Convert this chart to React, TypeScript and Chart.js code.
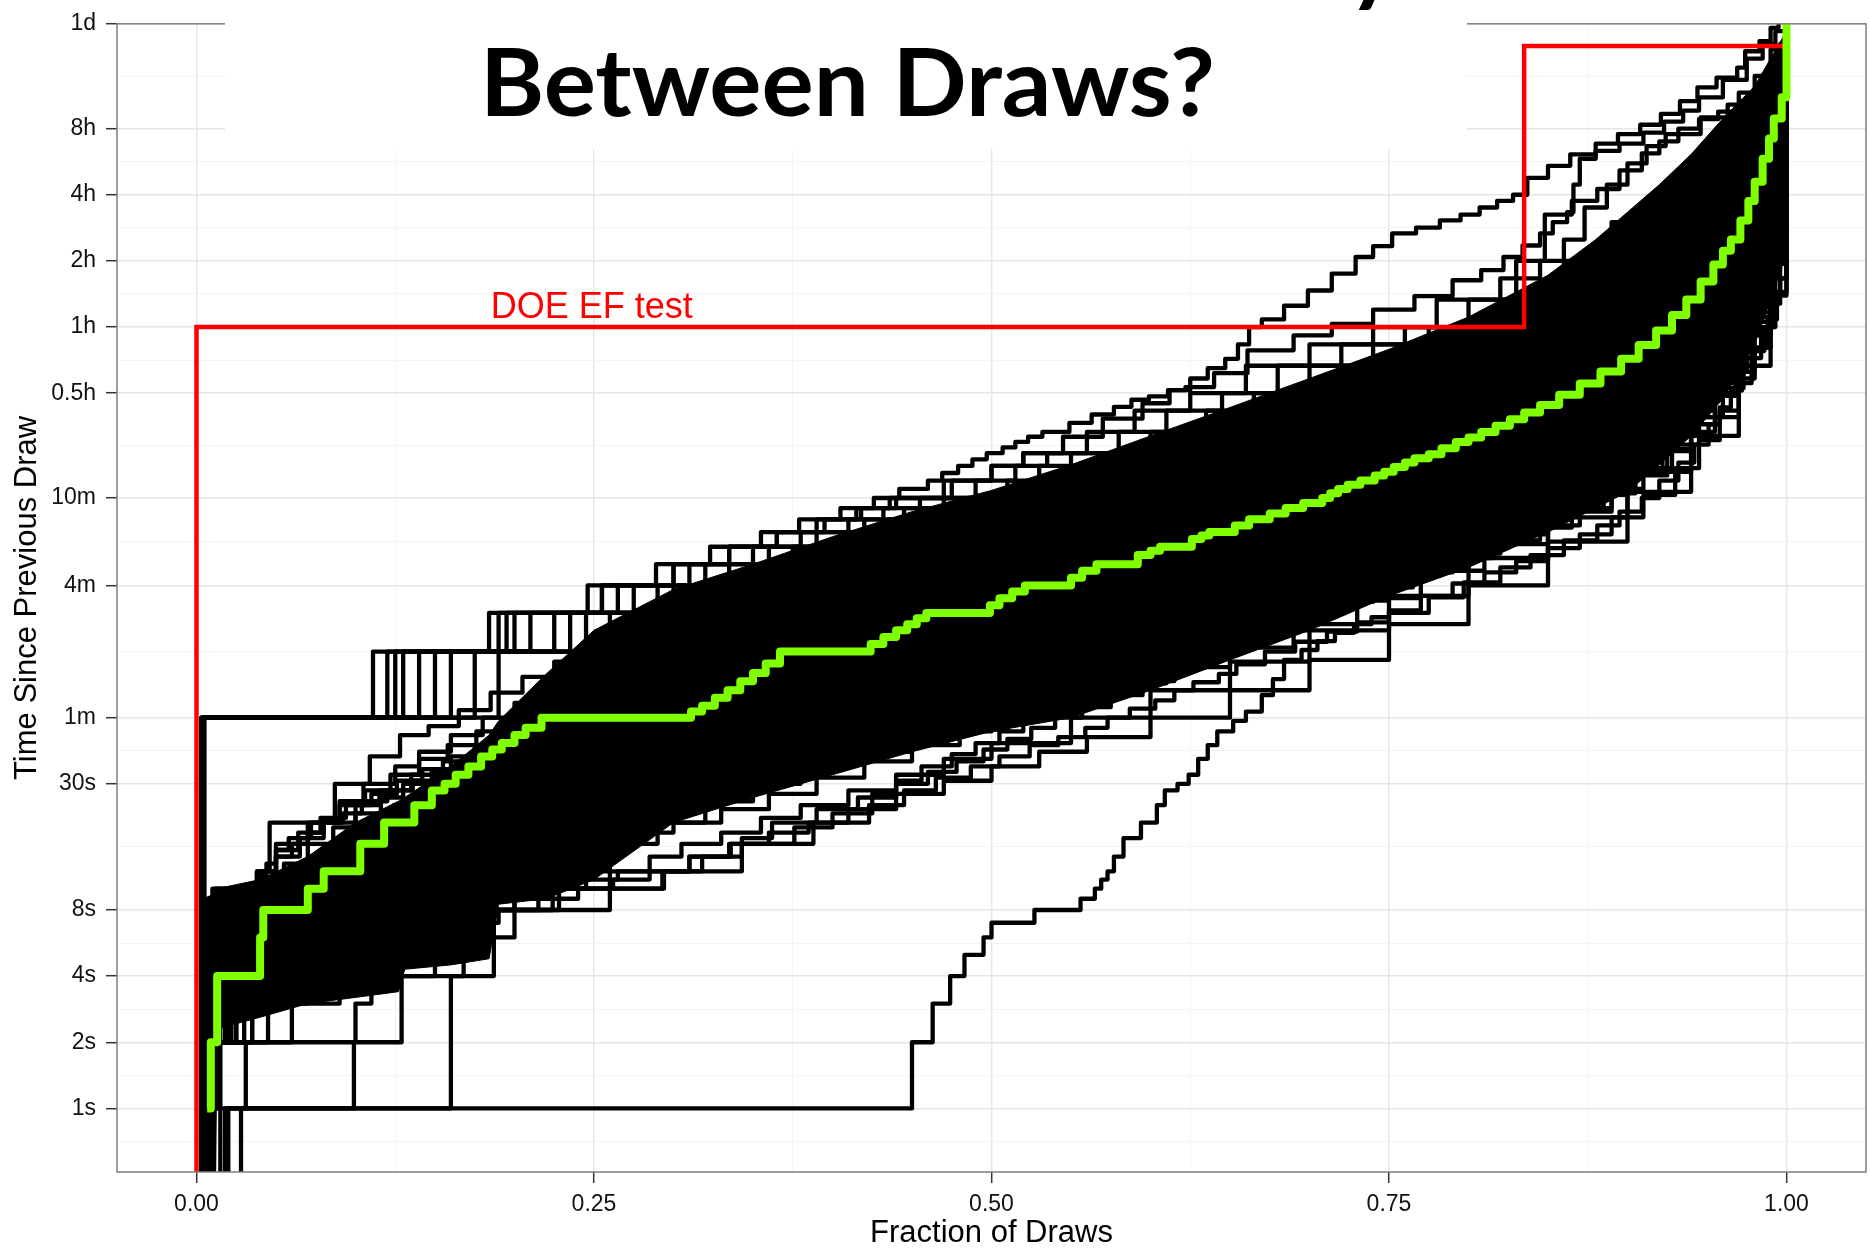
import React, { useEffect, useRef } from 'react';
import { Chart, registerables } from 'chart.js';

Chart.register(...registerables);

type Pt = [number, number];

// ---------- axes ----------
const xMajorTicks = [0, 0.25, 0.5, 0.75, 1];
const xTickLabels = ['0.00', '0.25', '0.50', '0.75', '1.00'];
const xMinorTicks = [0.125, 0.375, 0.625, 0.875];
const yMajorTicks = [1, 2, 4, 8, 30, 60, 240, 600, 1800, 3600, 7200, 14400, 28800, 86400];
const yTickLabels = ['1s', '2s', '4s', '8s', '30s', '1m', '4m', '10m', '0.5h', '1h', '2h', '4h', '8h', '1d'];
const yMinorTicks = [0.707, 1.414, 2.83, 5.66, 15.5, 42.4, 120, 379, 1039, 2546, 5091, 10182, 20365, 49883];
const xAxisTitle = 'Fraction of Draws';
const yAxisTitle = 'Time Since Previous Draw';
const chartTitle = 'Between Draws?';
const doeLabel = 'DOE EF test';
const doeLabelX = 0.185;
const doeLabelY = 3950;

// ---------- series (x = fraction of draws, y = seconds; 0.1 = zero interval, below axis) ----------
const greenLine: Pt[] = [[0.0067,1],[0.009,2],[0.013,4],[0.04,6],[0.042,8],[0.07,10],[0.08,12],[0.103,16],[0.118,20],[0.137,24],[0.148,28],[0.156,30],[0.163,33],[0.171,36],[0.179,40],[0.186,43],[0.192,46],[0.2,50],[0.207,54],[0.217,60],[0.311,64],[0.318,68],[0.326,74],[0.334,80],[0.342,88],[0.35,96],[0.358,106],[0.367,120],[0.424,130],[0.432,140],[0.44,150],[0.447,160],[0.453,170],[0.459,180],[0.499,195],[0.505,210],[0.513,225],[0.521,240],[0.55,260],[0.557,280],[0.566,300],[0.592,330],[0.6,345],[0.606,360],[0.626,390],[0.632,405],[0.637,420],[0.653,450],[0.662,480],[0.675,510],[0.685,540],[0.696,570],[0.708,600],[0.713,630],[0.718,660],[0.724,690],[0.732,720],[0.741,760],[0.747,790],[0.753,830],[0.76,870],[0.766,910],[0.775,950],[0.783,1010],[0.792,1080],[0.8,1130],[0.808,1200],[0.817,1280],[0.826,1370],[0.835,1470],[0.845,1590],[0.857,1770],[0.87,1990],[0.883,2260],[0.896,2580],[0.907,2980],[0.918,3470],[0.928,4080],[0.937,4800],[0.946,5800],[0.954,6940],[0.96,8000],[0.965,9000],[0.971,11000],[0.976,13500],[0.98,16500],[0.985,21000],[0.989,26000],[0.992,32000],[0.997,40000],[1,86400]];

const redLine: Pt[] = [[0,0.1],[0,3600],[0.835,68400],[1,68400]];

const lineSB: Pt[] = [[0,0.1],[0.028,1],[0.45,2],[0.463,3],[0.474,4],[0.483,5],[0.495,6],[0.5,7],[0.527,8],[0.556,9],[0.565,10],[0.569,11],[0.573,12],[0.577,14],[0.583,17],[0.594,20],[0.604,24],[0.609,28],[0.617,30],[0.624,33],[0.63,39],[0.636,45],[0.642,52],[0.652,58],[0.66,64],[0.67,76],[0.677,90],[0.684,110],[0.695,122],[0.705,134],[0.716,146],[0.728,160],[0.739,172],[0.75,185],[0.77,215],[0.79,245],[0.81,275],[0.83,310],[0.85,355],[0.87,410],[0.89,490],[0.91,620],[0.93,820],[0.945,1100],[0.958,1500],[0.97,2100],[0.98,2900],[0.988,3900],[0.994,5200],[1,7500]];
const lineS1: Pt[] = [[0,0.1],[0.02,1],[0.16,4],[0.187,8],[0.26,10],[0.293,12],[0.318,14],[0.336,16],[0.388,20],[0.423,24],[0.445,28],[0.465,32],[0.487,36],[0.505,40],[0.524,45],[0.542,49],[0.559,54],[0.573,60],[0.587,66],[0.603,72],[0.615,80],[0.627,87],[0.643,95],[0.654,105],[0.672,120],[0.691,133],[0.711,148],[0.73,163],[0.75,180],[0.775,212],[0.797,248],[0.82,290],[0.839,330],[0.86,385],[0.881,450],[0.895,520],[0.909,600],[0.92,720],[0.932,870],[0.942,1050],[0.951,1300],[0.958,1550],[0.965,1850],[0.972,2250],[0.98,2800],[0.986,3600],[0.991,4600],[0.996,6000],[1,7000]];
const lineS2: Pt[] = [[0,0.1],[0.018,1],[0.099,2],[0.129,4],[0.168,6],[0.2,8],[0.228,10],[0.294,12],[0.343,16],[0.376,19],[0.4,22],[0.425,27],[0.44,31],[0.456,36],[0.475,41],[0.49,46],[0.505,52],[0.52,59],[0.534,66],[0.556,75],[0.576,89],[0.6,102],[0.62,115],[0.64,130],[0.66,150],[0.68,170],[0.7,192],[0.72,215],[0.745,250],[0.77,290],[0.795,335],[0.82,385],[0.845,450],[0.87,540],[0.89,660],[0.91,820],[0.928,1050],[0.945,1400],[0.96,1900],[0.973,2600],[0.984,3600],[0.992,5000],[1,9000]];
const lineS3: Pt[] = [[0,0.1],[0.015,1],[0.031,2],[0.1,3],[0.11,4],[0.15,6],[0.178,8],[0.224,10],[0.26,12],[0.31,14],[0.343,17],[0.362,20],[0.39,23],[0.416,26],[0.44,30],[0.46,34],[0.478,38],[0.495,43],[0.51,48],[0.525,54],[0.54,60],[0.557,67],[0.575,76],[0.595,88],[0.615,102],[0.635,118],[0.655,136],[0.675,156],[0.695,178],[0.715,202],[0.74,235],[0.765,275],[0.79,320],[0.815,375],[0.84,440],[0.865,525],[0.885,630],[0.905,780],[0.922,980],[0.94,1300],[0.955,1750],[0.968,2400],[0.98,3300],[0.99,5000],[0.996,7500],[1,11000]];
const lineS4: Pt[] = [[0,0.1],[0.004,1],[0.008,2],[0.02,3],[0.035,4],[0.07,6],[0.168,8],[0.2,10],[0.23,12],[0.26,16],[0.29,20],[0.32,25],[0.35,30],[0.38,36],[0.41,43],[0.44,50],[0.47,60],[0.5,72],[0.53,86],[0.56,100],[0.59,118],[0.62,140],[0.66,170],[0.7,220],[0.74,290],[0.78,380],[0.82,500],[0.86,700],[0.9,1000],[0.93,1500],[0.955,2300],[0.975,3800],[0.99,7000],[1,14000]];
const lineS5: Pt[] = [[0,0.1],[0.005,1],[0.01,2],[0.03,3],[0.05,4],[0.12,6],[0.145,8],[0.185,10],[0.22,12],[0.25,16],[0.275,20],[0.3,24],[0.325,28],[0.35,33],[0.375,39],[0.4,46],[0.43,55],[0.46,65],[0.49,78],[0.52,92],[0.55,110],[0.58,130],[0.615,160],[0.65,200],[0.69,260],[0.73,340],[0.77,450],[0.81,600],[0.85,820],[0.885,1150],[0.915,1650],[0.945,2500],[0.97,4200],[0.99,9000],[1,18000]];
const lineS6: Pt[] = [[0,0.1],[0.006,1],[0.012,2],[0.025,3],[0.04,4],[0.06,5],[0.1,6],[0.14,8],[0.165,10],[0.19,12],[0.215,14],[0.24,16],[0.265,20],[0.29,24],[0.315,29],[0.34,35],[0.37,42],[0.4,50],[0.43,60],[0.46,72],[0.49,86],[0.52,102],[0.55,120],[0.585,145],[0.62,180],[0.66,230],[0.7,300],[0.74,390],[0.78,520],[0.82,700],[0.86,980],[0.9,1450],[0.93,2200],[0.96,3700],[0.98,6500],[0.995,14000],[1,22000]];
const lineS7: Pt[] = [[0,0.1],[0.007,1],[0.015,2],[0.035,3],[0.06,4],[0.09,6],[0.11,8],[0.13,9],[0.15,10],[0.17,12],[0.195,14],[0.22,17],[0.245,20],[0.27,24],[0.295,29],[0.32,35],[0.35,42],[0.38,50],[0.41,60],[0.44,72],[0.47,86],[0.5,102],[0.53,120],[0.565,145],[0.6,175],[0.64,220],[0.68,290],[0.72,380],[0.76,500],[0.8,680],[0.84,950],[0.88,1400],[0.915,2100],[0.945,3400],[0.97,6000],[0.99,13000],[1,28000]];
const lineS8: Pt[] = [[0,0.1],[0.003,1],[0.006,2],[0.012,3],[0.02,4],[0.045,6],[0.075,8],[0.1,10],[0.125,12],[0.155,16],[0.185,20],[0.215,25],[0.24,30],[0.265,35],[0.29,40],[0.32,47],[0.35,55],[0.38,65],[0.41,77],[0.44,90],[0.47,105],[0.5,122],[0.535,145],[0.57,175],[0.61,215],[0.65,270],[0.69,350],[0.73,450],[0.77,600],[0.81,800],[0.85,1100],[0.89,1600],[0.925,2500],[0.955,4200],[0.978,8000],[0.993,18000],[1,35000]];
const lineS9: Pt[] = [[0,0.1],[0.004,1],[0.007,2],[0.015,3],[0.025,4],[0.05,6],[0.065,8],[0.085,10],[0.1,12],[0.13,16],[0.16,20],[0.19,25],[0.215,30],[0.24,35],[0.26,40],[0.285,46],[0.31,53],[0.335,60],[0.36,70],[0.39,82],[0.42,96],[0.455,115],[0.49,135],[0.525,160],[0.56,190],[0.6,240],[0.64,300],[0.68,390],[0.72,500],[0.76,650],[0.8,850],[0.84,1150],[0.88,1650],[0.915,2500],[0.945,4000],[0.97,7500],[0.988,16000],[1,45000]];
const lineS10: Pt[] = [[0,0.1],[0.003,1],[0.005,2],[0.01,3],[0.015,4],[0.03,6],[0.055,8],[0.075,10],[0.09,12],[0.115,16],[0.14,20],[0.165,25],[0.19,30],[0.21,35],[0.235,40],[0.255,46],[0.275,52],[0.3,60],[0.33,70],[0.36,82],[0.39,96],[0.43,115],[0.47,140],[0.51,170],[0.55,210],[0.59,260],[0.63,330],[0.67,420],[0.71,540],[0.75,700],[0.79,920],[0.83,1250],[0.87,1800],[0.905,2700],[0.935,4200],[0.96,7500],[0.982,16000],[1,55000]];
const lineS11: Pt[] = [[0,0.1],[0.003,1],[0.005,2],[0.008,3],[0.012,4],[0.025,6],[0.045,8],[0.06,10],[0.075,12],[0.1,16],[0.12,20],[0.145,25],[0.165,30],[0.19,36],[0.21,42],[0.235,50],[0.26,58],[0.285,68],[0.31,80],[0.34,95],[0.37,112],[0.405,135],[0.445,165],[0.485,200],[0.525,245],[0.565,300],[0.61,380],[0.65,480],[0.69,610],[0.73,780],[0.77,1000],[0.81,1350],[0.85,1900],[0.89,2800],[0.925,4300],[0.955,7500],[0.978,15000],[0.992,32000],[1,65000]];
const lineS12: Pt[] = [[0,0.1],[0.003,1],[0.004,2],[0.006,4],[0.008,8],[0.01,10],[0.038,12],[0.046,20],[0.087,30],[0.109,40],[0.128,50],[0.146,55],[0.165,65],[0.185,78],[0.205,92],[0.225,108],[0.245,125],[0.27,145],[0.295,170],[0.32,200],[0.35,240],[0.38,285],[0.41,340],[0.44,400],[0.47,470],[0.5,560],[0.535,670],[0.57,800],[0.61,980],[0.65,1200],[0.69,1500],[0.73,1900],[0.77,2450],[0.81,3200],[0.85,4300],[0.89,6000],[0.925,9000],[0.955,15000],[0.978,28000],[0.993,55000],[1,75000]];
const lineS13: Pt[] = [[0,0.1],[0.005,1],[0.009,2],[0.018,3],[0.028,4],[0.04,5],[0.055,6],[0.08,7],[0.095,8],[0.115,9],[0.135,10],[0.155,11],[0.175,12],[0.2,14],[0.225,16],[0.25,19],[0.275,22],[0.3,26],[0.325,30],[0.355,36],[0.385,43],[0.415,51],[0.445,60],[0.475,71],[0.505,84],[0.535,100],[0.57,120],[0.605,145],[0.64,180],[0.68,230],[0.72,300],[0.76,400],[0.8,540],[0.84,750],[0.88,1100],[0.915,1700],[0.945,2800],[0.97,5000],[0.99,11000],[1,25000]];
const lineS14: Pt[] = [[0,0.1],[0.008,1],[0.013,2],[0.022,3],[0.032,4],[0.05,5],[0.075,6],[0.092,7],[0.12,8],[0.14,9],[0.16,10],[0.18,11],[0.2,12],[0.22,13],[0.24,14],[0.26,16],[0.28,18],[0.3,20],[0.33,23],[0.36,27],[0.39,32],[0.42,38],[0.45,45],[0.48,53],[0.51,62],[0.54,73],[0.575,86],[0.61,102],[0.65,125],[0.69,160],[0.73,210],[0.77,280],[0.81,370],[0.85,520],[0.89,760],[0.925,1200],[0.955,2000],[0.978,3600],[0.993,7000],[1,12000]];
const lineS15: Pt[] = [[0,0.1],[0.009,1],[0.01,3],[0.011,6],[0.012,10],[0.038,12],[0.05,16],[0.07,20],[0.09,25],[0.105,30],[0.125,36],[0.14,42],[0.16,50],[0.18,60],[0.2,70],[0.22,82],[0.24,95],[0.265,110],[0.29,128],[0.32,150],[0.35,178],[0.38,210],[0.415,250],[0.45,300],[0.49,360],[0.53,440],[0.57,540],[0.61,670],[0.65,840],[0.69,1050],[0.73,1350],[0.77,1750],[0.81,2300],[0.85,3100],[0.89,4300],[0.925,6200],[0.955,10000],[0.978,19000],[0.992,38000],[1,70000]];
const lineS16: Pt[] = [[0,0.1],[0.011,1],[0.012,2],[0.014,4],[0.016,7],[0.022,9],[0.034,10],[0.042,12],[0.05,14],[0.065,17],[0.08,20],[0.1,24],[0.115,28],[0.135,33],[0.155,38],[0.175,44],[0.195,51],[0.215,58],[0.235,66],[0.26,76],[0.285,88],[0.31,100],[0.34,118],[0.37,138],[0.4,160],[0.44,195],[0.48,240],[0.52,295],[0.56,360],[0.6,450],[0.64,560],[0.68,700],[0.72,880],[0.76,1120],[0.8,1450],[0.84,1950],[0.88,2700],[0.915,3900],[0.945,6000],[0.97,10500],[0.988,22000],[1,50000]];
const lineS17: Pt[] = [[0,0.1],[0.003,1],[0.006,2],[0.01,3],[0.016,4],[0.026,5],[0.038,6],[0.052,7],[0.066,8],[0.082,9],[0.1,10],[0.118,11],[0.136,12],[0.16,14],[0.185,16],[0.21,18],[0.24,21],[0.27,25],[0.3,30],[0.35,38],[0.4,48],[0.45,62],[0.5,80],[0.55,105],[0.6,140],[0.65,190],[0.7,260],[0.75,360],[0.8,520],[0.85,780],[0.9,1300],[0.94,2300],[0.97,4500],[0.99,10000],[1,20000]];
const lineS18: Pt[] = [[0,0.1],[0.004,1],[0.007,2],[0.011,3],[0.014,4],[0.02,5],[0.028,6],[0.036,7],[0.044,8],[0.058,10],[0.07,12],[0.085,14],[0.1,16],[0.118,19],[0.135,22],[0.152,25],[0.17,28],[0.19,32],[0.21,36],[0.235,41],[0.26,47],[0.3,56],[0.35,70],[0.4,88],[0.45,110],[0.5,140],[0.55,180],[0.6,235],[0.65,310],[0.7,420],[0.75,580],[0.8,820],[0.85,1200],[0.9,1900],[0.94,3300],[0.97,6500],[0.99,15000],[1,30000]];
const lineS19: Pt[] = [[0,0.1],[0.005,1],[0.008,2],[0.035,3],[0.055,4],[0.068,5],[0.08,6],[0.092,7],[0.104,8],[0.118,9],[0.132,10],[0.148,11],[0.164,12],[0.18,13],[0.196,15],[0.215,17],[0.24,19],[0.265,22],[0.29,25],[0.32,29],[0.36,35],[0.4,42],[0.45,52],[0.5,66],[0.55,85],[0.6,112],[0.65,150],[0.7,205],[0.75,285],[0.8,410],[0.85,620],[0.9,1000],[0.94,1800],[0.97,3500],[0.99,8000],[1,16000]];
const lineS20: Pt[] = [[0,0.1],[0.006,1],[0.01,2],[0.014,3],[0.019,4],[0.03,5],[0.042,6],[0.05,7],[0.06,8],[0.072,9],[0.088,10],[0.104,12],[0.12,14],[0.14,16],[0.158,18],[0.176,20],[0.196,23],[0.218,26],[0.24,30],[0.27,35],[0.3,41],[0.35,52],[0.4,66],[0.45,84],[0.5,108],[0.55,140],[0.6,185],[0.65,245],[0.7,330],[0.75,460],[0.8,650],[0.85,960],[0.9,1500],[0.94,2700],[0.97,5300],[0.99,12000],[1,24000]];
const lineS21: Pt[] = [[0,0.1],[0.003,1],[0.005,2],[0.009,4],[0.013,6],[0.018,8],[0.026,10],[0.04,12],[0.05,15],[0.064,18],[0.078,21],[0.094,24],[0.11,27],[0.126,31],[0.142,35],[0.16,40],[0.18,45],[0.2,51],[0.22,57],[0.245,64],[0.27,72],[0.3,82],[0.35,100],[0.4,124],[0.45,152],[0.5,190],[0.55,240],[0.6,305],[0.65,395],[0.7,520],[0.75,700],[0.8,960],[0.85,1400],[0.9,2200],[0.94,3800],[0.97,7500],[0.99,17000],[1,36000]];
const lineS22: Pt[] = [[0,0.1],[0.004,1],[0.006,2],[0.012,3],[0.017,5],[0.022,7],[0.03,9],[0.04,11],[0.055,13],[0.07,16],[0.086,19],[0.1,22],[0.116,26],[0.13,30],[0.148,34],[0.165,38],[0.185,43],[0.205,48],[0.228,54],[0.25,60],[0.28,68],[0.32,80],[0.36,94],[0.4,110],[0.45,135],[0.5,168],[0.55,210],[0.6,265],[0.65,340],[0.7,445],[0.75,600],[0.8,830],[0.85,1200],[0.9,1900],[0.94,3300],[0.97,6500],[0.99,14000],[1,28000]];
const lineS23: Pt[] = [[0,0.1],[0.005,1],[0.009,2],[0.025,3],[0.04,4],[0.05,5],[0.058,6],[0.066,7],[0.074,8],[0.082,9],[0.09,10],[0.1,11],[0.11,12],[0.12,13],[0.13,14],[0.14,15],[0.15,16],[0.162,18],[0.175,20],[0.19,22],[0.21,24],[0.23,27],[0.255,30],[0.28,34],[0.31,39],[0.35,46],[0.4,56],[0.45,70],[0.5,88],[0.55,112],[0.6,145],[0.65,190],[0.7,255],[0.75,350],[0.8,500],[0.85,740],[0.9,1150],[0.94,2000],[0.97,4000],[0.99,9000],[1,18000]];
const lineS24: Pt[] = [[0,0.1],[0.006,1],[0.008,2],[0.011,3],[0.015,4],[0.022,6],[0.03,8],[0.038,9],[0.05,10],[0.062,12],[0.074,14],[0.09,17],[0.106,20],[0.124,24],[0.142,28],[0.16,33],[0.178,38],[0.196,44],[0.215,50],[0.235,56],[0.26,63],[0.29,72],[0.33,85],[0.37,100],[0.41,118],[0.45,140],[0.5,172],[0.55,215],[0.6,270],[0.65,345],[0.7,450],[0.75,610],[0.8,850],[0.85,1250],[0.9,2000],[0.94,3500],[0.97,7000],[0.99,16000],[1,40000]];
const lineS25: Pt[] = [[0,0.1],[0.007,1],[0.011,2],[0.045,3],[0.07,4],[0.1,5],[0.125,6],[0.15,7],[0.175,8],[0.2,9],[0.222,10],[0.245,11],[0.265,12],[0.285,14],[0.305,16],[0.33,18],[0.355,21],[0.38,24],[0.41,28],[0.44,33],[0.47,39],[0.5,46],[0.55,60],[0.6,80],[0.65,108],[0.7,150],[0.75,215],[0.8,320],[0.85,490],[0.9,790],[0.94,1400],[0.97,2900],[0.99,7000],[1,14000]];
const lineS26: Pt[] = [[0,0.1],[0.004,1],[0.005,3],[0.008,5],[0.012,7],[0.016,9],[0.028,10],[0.038,11],[0.044,13],[0.05,15],[0.058,17],[0.072,20],[0.09,24],[0.106,28],[0.122,33],[0.14,39],[0.158,45],[0.176,52],[0.194,60],[0.214,68],[0.236,77],[0.26,88],[0.29,100],[0.32,116],[0.36,135],[0.4,158],[0.45,190],[0.5,230],[0.55,285],[0.6,355],[0.65,450],[0.7,580],[0.75,770],[0.8,1050],[0.85,1500],[0.9,2400],[0.94,4200],[0.97,8500],[0.99,20000],[1,45000]];
const lineS27: Pt[] = [[0,0.1],[0.005,1],[0.007,2],[0.01,4],[0.015,6],[0.02,8],[0.027,10],[0.04,12],[0.05,14],[0.06,16],[0.07,18],[0.08,20],[0.092,22],[0.104,25],[0.12,28],[0.136,31],[0.154,34],[0.172,38],[0.19,42],[0.21,47],[0.232,52],[0.255,58],[0.28,65],[0.31,74],[0.35,86],[0.4,104],[0.45,126],[0.5,155],[0.55,195],[0.6,250],[0.65,320],[0.7,420],[0.75,570],[0.8,790],[0.85,1150],[0.9,1800],[0.94,3100],[0.97,6200],[0.99,14000],[1,30000]];
const lineS28: Pt[] = [[0,0.1],[0.008,1],[0.012,2],[0.06,3],[0.09,4],[0.12,5],[0.15,6],[0.17,7],[0.19,8],[0.215,9],[0.24,10],[0.262,11],[0.285,12],[0.31,14],[0.335,16],[0.36,18],[0.385,20],[0.41,23],[0.44,27],[0.47,31],[0.5,36],[0.53,42],[0.56,49],[0.6,60],[0.65,80],[0.7,110],[0.75,160],[0.8,240],[0.85,380],[0.9,640],[0.94,1150],[0.97,2400],[0.99,6000],[1,12000]];

const lineM1: Pt[] = [[0,0.1],[0.003,60],[0.111,120],[0.184,180],[0.246,240],[0.289,300],[0.323,360],[0.355,420],[0.379,480],[0.405,540],[0.426,600],[0.442,660],[0.46,720],[0.469,780],[0.479,840],[0.488,900],[0.497,960],[0.507,1020],[0.515,1080],[0.523,1140],[0.532,1200],[0.549,1320],[0.563,1440],[0.577,1560],[0.588,1680],[0.599,1740],[0.611,1860],[0.622,1920],[0.64,2220],[0.661,2820],[0.69,3300],[0.714,3720],[0.74,4320],[0.766,4980],[0.79,5880],[0.808,6540],[0.822,7500],[0.834,8460],[0.845,9600],[0.853,10800],[0.862,12000],[0.866,16000],[0.87,21000],[0.88,22800],[0.895,24600],[0.91,27600],[0.923,31000],[0.935,34800],[0.945,40000],[0.96,48000],[0.975,60000],[0.985,70000],[0.993,80000],[1,86400]];
const lineO1: Pt[] = [[0,0.1],[0.003,60],[0.125,120],[0.195,180],[0.255,240],[0.3,300],[0.335,360],[0.365,420],[0.39,480],[0.415,540],[0.436,600],[0.47,720],[0.5,840],[0.52,960],[0.545,1140],[0.57,1380],[0.595,1620],[0.612,1860],[0.625,2100],[0.636,2340],[0.647,2580],[0.655,3000],[0.662,3600],[0.67,3900],[0.684,4500],[0.699,5280],[0.714,6300],[0.729,7500],[0.74,8400],[0.752,9600],[0.767,10200],[0.782,11000],[0.795,11700],[0.807,12600],[0.818,13500],[0.828,14400],[0.837,17200],[0.85,19500],[0.864,22000],[0.88,24600],[0.894,27200],[0.908,30000],[0.921,33600],[0.933,38400],[0.944,44400],[0.956,49200],[0.969,54600],[0.974,64800],[0.983,72000],[0.99,82800],[0.995,86400]];
const lineM2: Pt[] = [[0,0.1],[0.0035,60],[0.12,120],[0.19,180],[0.255,240],[0.3,300],[0.335,360],[0.365,420],[0.395,480],[0.418,540],[0.44,600],[0.475,720],[0.5,840],[0.52,960],[0.56,1200],[0.59,1500],[0.625,1800],[0.66,2400],[0.7,3000],[0.74,3600],[0.78,4800],[0.82,6000],[0.845,7200],[0.86,9000],[0.873,12600],[0.887,16000],[0.9,20000],[0.912,24000],[0.924,27200],[0.946,32400],[0.963,37000],[0.98,42600],[0.99,55000],[0.996,70000],[1,86400]];
const lineM3: Pt[] = [[0,0.1],[0.0035,60],[0.13,120],[0.2,180],[0.265,240],[0.31,300],[0.35,360],[0.38,420],[0.41,480],[0.432,540],[0.455,600],[0.49,720],[0.515,840],[0.535,960],[0.58,1200],[0.61,1500],[0.645,1800],[0.68,2400],[0.72,3000],[0.76,3600],[0.8,4800],[0.83,7200],[0.848,11700],[0.865,13500],[0.881,15300],[0.895,18600],[0.909,22200],[0.92,25200],[0.932,28800],[0.945,31800],[0.957,34400],[0.97,42000],[0.98,50000],[0.99,66000],[1,86400]];
const lineM4: Pt[] = [[0,0.1],[0.004,60],[0.14,120],[0.21,180],[0.275,240],[0.32,300],[0.36,360],[0.39,420],[0.42,480],[0.445,540],[0.47,600],[0.51,720],[0.53,840],[0.55,960],[0.6,1200],[0.635,1500],[0.665,1800],[0.7,2400],[0.74,3000],[0.775,3600],[0.82,4800],[0.86,7200],[0.89,10800],[0.93,14400],[0.96,21600],[0.98,28800],[0.995,43200],[1,70000]];
const lineM5: Pt[] = [[0,0.1],[0.004,60],[0.15,120],[0.225,180],[0.29,240],[0.335,300],[0.375,360],[0.405,420],[0.435,480],[0.46,540],[0.485,600],[0.525,720],[0.55,840],[0.57,960],[0.62,1200],[0.655,1500],[0.685,1800],[0.72,2400],[0.76,3000],[0.795,3600],[0.84,4800],[0.88,7200],[0.91,10800],[0.945,14400],[0.97,21600],[0.985,28800],[0.995,43200],[1,60000]];
const lineM6: Pt[] = [[0,0.1],[0.0045,60],[0.16,120],[0.235,180],[0.3,240],[0.35,300],[0.39,360],[0.42,420],[0.45,480],[0.475,540],[0.5,600],[0.545,720],[0.57,840],[0.59,960],[0.64,1200],[0.675,1500],[0.71,1800],[0.75,2400],[0.785,3000],[0.815,3600],[0.855,4800],[0.9,7200],[0.93,10800],[0.96,14400],[0.98,21600],[0.992,28800],[1,40000]];
const lineM7: Pt[] = [[0,0.1],[0.0045,60],[0.175,120],[0.245,180],[0.315,240],[0.365,300],[0.405,360],[0.435,420],[0.465,480],[0.49,540],[0.52,600],[0.565,720],[0.59,840],[0.61,960],[0.665,1200],[0.7,1500],[0.735,1800],[0.775,2400],[0.81,3000],[0.84,3600],[0.87,4800],[0.92,7200],[0.95,10800],[0.975,14400],[0.99,21600],[1,25000]];
const lineM8: Pt[] = [[0,0.1],[0.005,60],[0.19,120],[0.26,180],[0.33,240],[0.38,300],[0.42,360],[0.45,420],[0.48,480],[0.505,540],[0.535,600],[0.585,720],[0.61,840],[0.63,960],[0.69,1200],[0.725,1500],[0.76,1800],[0.8,2400],[0.835,3000],[0.865,3600],[0.89,4800],[0.94,7200],[0.965,10800],[0.985,14400],[0.995,18000],[1,20000]];

const blackLines: Pt[][] = [lineSB, lineS1, lineS2, lineS3, lineS4, lineS5, lineS6, lineS7, lineS8, lineS9, lineS10, lineS11, lineS12, lineS13, lineS14, lineS15, lineS16, lineS17, lineS18, lineS19, lineS20, lineS21, lineS22, lineS23, lineS24, lineS25, lineS26, lineS27, lineS28, lineM1, lineO1, lineM2, lineM3, lineM4, lineM5, lineM6, lineM7, lineM8];

// dense overlap of the many runs (solid black band)
const coreX = [0.004, 0.012, 0.013, 0.04, 0.07, 0.1, 0.127, 0.131, 0.16, 0.184, 0.19, 0.22, 0.25, 0.3, 0.35, 0.4, 0.45, 0.5, 0.55, 0.6, 0.65, 0.7, 0.75, 0.8, 0.85, 0.88, 0.9, 0.92, 0.94, 0.96, 0.98, 0.99, 1];
const coreUpper = [9, 9.5, 10, 11, 14, 20, 25, 26, 36, 50, 58, 95, 150, 230, 300, 400, 520, 650, 850, 1150, 1550, 2100, 2850, 4000, 6200, 9000, 12000, 16000, 22000, 32000, 45000, 60000, 80000];
const coreLower = [0.52, 0.52, 2.3, 2.6, 3.0, 3.2, 3.4, 4.3, 4.5, 4.8, 8.5, 9, 11, 20, 26, 33, 42, 52, 60, 80, 110, 150, 215, 290, 420, 540, 640, 850, 1150, 1700, 3000, 4800, 7800];

const AXIS_FONT = '"Liberation Sans", Arial, Helvetica, sans-serif';

const overlayPlugin = {
  id: 'overlay',
  afterDatasetsDraw(chart: any) {
    const { ctx, chartArea: a, scales } = chart;
    ctx.save();
    ctx.strokeStyle = '#7f7f7f';
    ctx.lineWidth = 1.5;
    ctx.strokeRect(a.left, a.top, a.right - a.left, a.bottom - a.top);
    ctx.fillStyle = '#ff0000';
    ctx.font = `36px ${AXIS_FONT}`;
    ctx.textAlign = 'left';
    ctx.textBaseline = 'alphabetic';
    ctx.fillText(doeLabel, scales.x.getPixelForValue(doeLabelX), scales.y.getPixelForValue(doeLabelY));
    ctx.restore();
  },
  afterDraw(chart: any) {
    const { ctx } = chart;
    ctx.save();
    ctx.fillStyle = '#ffffff';
    ctx.fillRect(225, 0, 1467 - 225, 149);
    ctx.fillStyle = '#000000';
    ctx.font = 'bold 94px Lato, "Open Sans", sans-serif';
    ctx.textAlign = 'left';
    ctx.textBaseline = 'alphabetic';
    const w = ctx.measureText(chartTitle).width;
    const sx = 735 / w;
    ctx.translate(480, 116);
    ctx.scale(sx, 1);
    ctx.fillText(chartTitle, 0, 0);
    ctx.restore();
    ctx.save();
    ctx.fillStyle = '#000000';
    ctx.font = 'bold 94px Lato, "Open Sans", sans-serif';
    ctx.fillText('y', 1348, -6);
    ctx.restore();
  },
};

export default function App() {
  const ref = useRef<HTMLCanvasElement>(null);
  useEffect(() => {
    document.body.style.margin = '0';
    const canvas = ref.current;
    if (!canvas) return;
    const isXMajor = (v: number) => xMajorTicks.includes(v);
    const isYMajor = (v: number) => yMajorTicks.includes(v);
    const datasets: any[] = [
      { label: 'pooled', data: greenLine, borderColor: '#7fff00', borderWidth: 8, stepped: true, pointRadius: 0, fill: false, borderJoinStyle: 'round' },
      { label: doeLabel, data: redLine, borderColor: '#ff0000', borderWidth: 4.5, stepped: true, pointRadius: 0, fill: false },
      ...blackLines.map((d, i) => ({ label: `run ${i + 1}`, data: d, borderColor: '#000000', borderWidth: 4.3, stepped: true, pointRadius: 0, fill: false, borderJoinStyle: 'round' })),
      { label: 'core upper', data: coreX.map((x, i) => [x, coreUpper[i]]), borderColor: '#000000', borderWidth: 1, backgroundColor: '#000000', fill: '+1', pointRadius: 0, tension: 0 },
      { label: 'core lower', data: coreX.map((x, i) => [x, coreLower[i]]), borderColor: '#000000', borderWidth: 1, pointRadius: 0, fill: false, tension: 0 },
    ];
    const chart = new Chart(canvas, {
      type: 'line',
      data: { datasets },
      plugins: [overlayPlugin],
      options: {
        responsive: false,
        animation: false,
        devicePixelRatio: 1,
        events: [],
        layout: { padding: { top: 15, right: 4, left: 0, bottom: 0 } },
        plugins: { legend: { display: false }, tooltip: { enabled: false }, title: { display: false } },
        scales: {
          x: {
            type: 'linear',
            min: -0.05,
            max: 1.05,
            afterBuildTicks: (s: any) => {
              s.ticks = [...xMajorTicks, ...xMinorTicks].sort((a, b) => a - b).map((v) => ({ value: v }));
            },
            afterFit: (s: any) => { s.height = 79; },
            ticks: {
              autoSkip: false,
              maxRotation: 0,
              padding: 8,
              color: '#111111',
              font: { family: AXIS_FONT, size: 23 },
              callback: (v: any) => { const i = xMajorTicks.indexOf(Number(v)); return i >= 0 ? xTickLabels[i] : ''; },
            },
            grid: {
              color: (c: any) => (c.tick && isXMajor(c.tick.value) ? '#e6e6e6' : '#f4f4f4'),
              lineWidth: (c: any) => (c.tick && isXMajor(c.tick.value) ? 1.4 : 1),
              tickColor: (c: any) => (c.tick && isXMajor(c.tick.value) ? '#333333' : 'rgba(0,0,0,0)'),
              tickLength: 11,
              tickWidth: 1.5,
            },
            border: { display: false },
            title: { display: true, text: xAxisTitle, color: '#000000', font: { family: AXIS_FONT, size: 31, lineHeight: 1.1 }, padding: 0 },
          },
          y: {
            type: 'logarithmic',
            min: 0.5135,
            max: 86400,
            afterBuildTicks: (s: any) => {
              s.ticks = [...yMajorTicks, ...yMinorTicks].sort((a, b) => a - b).map((v) => ({ value: v }));
            },
            afterFit: (s: any) => { s.width = 117; },
            ticks: {
              autoSkip: false,
              padding: 10,
              color: '#111111',
              font: { family: AXIS_FONT, size: 23 },
              callback: (v: any) => { const i = yMajorTicks.indexOf(Number(v)); return i >= 0 ? yTickLabels[i] : ''; },
            },
            grid: {
              color: (c: any) => (c.tick && isYMajor(c.tick.value) ? '#e6e6e6' : '#f4f4f4'),
              lineWidth: (c: any) => (c.tick && isYMajor(c.tick.value) ? 1.4 : 1),
              tickColor: (c: any) => (c.tick && isYMajor(c.tick.value) ? '#333333' : 'rgba(0,0,0,0)'),
              tickLength: 11,
              tickWidth: 1.5,
            },
            border: { display: false },
            title: { display: true, text: yAxisTitle, color: '#000000', font: { family: AXIS_FONT, size: 31, lineHeight: 1.1 }, padding: { top: 10, bottom: 0 } },
          },
        },
      } as any,
    });
    return () => chart.destroy();
  }, []);
  return (
    <div style={{ position: 'absolute', left: 0, top: 0, width: 1870, height: 1251, background: '#ffffff' }}>
      <canvas ref={ref} width={1870} height={1251} style={{ display: 'block', width: 1870, height: 1251 }} />
    </div>
  );
}
